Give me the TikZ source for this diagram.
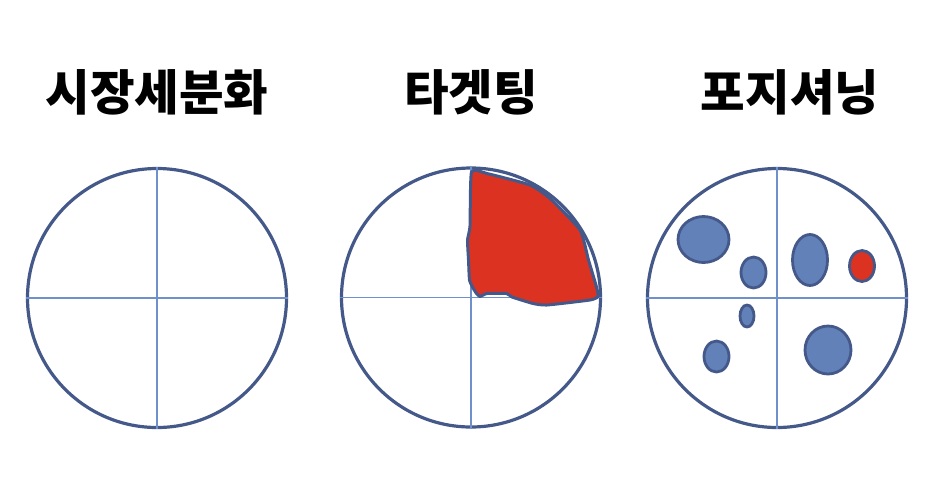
\documentclass[tikz,border=0pt]{standalone}
\usepackage{fontspec}
\newfontfamily\kr{Noto Sans CJK KR}
\usetikzlibrary{shapes.geometric}
\definecolor{outl}{HTML}{44598A}
\definecolor{crossc}{HTML}{7090CC}
\definecolor{blobf}{HTML}{6281B9}
\definecolor{redf}{HTML}{DC3222}
\tikzset{
  bigcirc/.style={circle, draw=outl, line width=3.2pt, minimum size=259pt, inner sep=0pt},
  crossline/.style={draw=crossc, line width=1.2pt},
  blob/.style={ellipse, draw=outl, fill=blobf, line width=2.8pt, inner sep=0pt},
  redblob/.style={ellipse, draw=outl, fill=redf, line width=2.8pt, inner sep=0pt},
  title/.style={font=\kr\bfseries\fontsize{48.5}{52}\selectfont, anchor=base, inner sep=0pt}
}
\begin{document}
\begin{tikzpicture}[x=1pt,y=-1pt]
\useasboundingbox (0,0) rectangle (931,480);
% titles
\node[title] (t1) at (157,110) {시장세분화};
\node[title] (t2) at (471,110) {타겟팅};
\node[title] (t3) at (790,110) {포지셔닝};
% circle 1
\node[bigcirc] (c1) at (157,298) {};
\draw[crossline] (c1.north) -- (c1.south);
\draw[crossline] (c1.west) -- (c1.east);
% circle 2
\node[bigcirc] (c2) at (471,297.5) {};
\draw[crossline] (c2.north) -- (c2.south);
\draw[crossline] (c2.west) -- (c2.east);
\draw[draw=outl, fill=redf, line width=3pt, line join=round]
  plot[smooth cycle, tension=0.3] coordinates {
  (471.5,172) (487,173.5) (530,185) (550,198.5) (580,230) (588.5,260)
  (596.5,287) (598,296.5) (590,300) (547,305) (533,303.5) (512,297)
  (506.5,293.5) (487,293.5) (480,296.5) (476.5,293.5) (473,288)
  (469.5,280) (468.5,260) (467.5,240) (470,226)};
% circle 3
\node[bigcirc] (c3) at (777,298) {};
\draw[crossline] (c3.north) -- (c3.south);
\draw[crossline] (c3.west) -- (c3.east);
\node[blob, minimum width=51pt, minimum height=46pt] (e1) at (703.5,239.5) {};
\node[blob, minimum width=25pt, minimum height=31pt] (e2) at (753.5,272.5) {};
\node[blob, minimum width=35pt, minimum height=51pt] (e3) at (810,260) {};
\node[redblob, minimum width=25pt, minimum height=31pt] (e4) at (862,266) {};
\node[blob, minimum width=14pt, minimum height=22pt] (e5) at (747,316) {};
\node[blob, minimum width=25pt, minimum height=31pt] (e6) at (716.5,356.5) {};
\node[blob, minimum width=46pt, minimum height=48pt] (e7) at (828,350) {};
\end{tikzpicture}
\end{document}
